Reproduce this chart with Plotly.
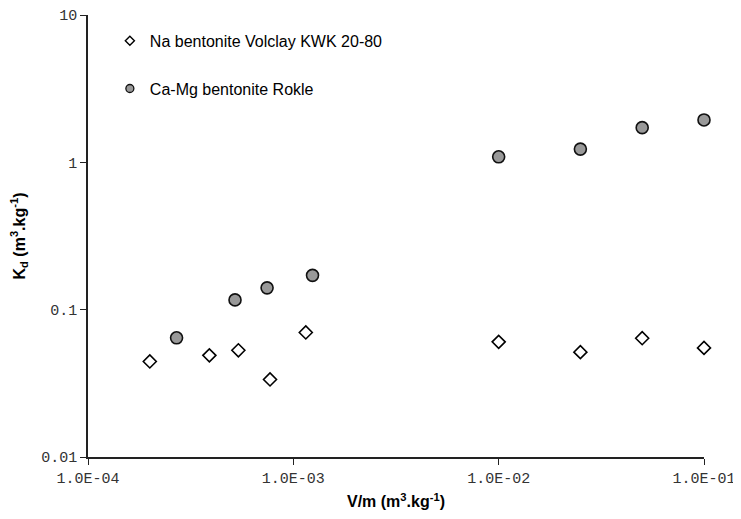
import plotly.graph_objects as go

# Data (V/m in m3/kg, Kd in m3/kg)
na_x = [2.0e-4, 3.9e-4, 5.4e-4, 7.7e-4, 1.15e-3, 1.0e-2, 2.5e-2, 5.0e-2, 1.0e-1]
na_y = [0.0445, 0.049, 0.053, 0.0336, 0.070, 0.0605, 0.0515, 0.064, 0.055]

ca_x = [2.7e-4, 5.2e-4, 7.45e-4, 1.24e-3, 1.0e-2, 2.5e-2, 5.0e-2, 1.0e-1]
ca_y = [0.0644, 0.1165, 0.1406, 0.171, 1.09, 1.23, 1.72, 1.94]

na_name = "Na bentonite Volclay KWK 20-80"
ca_name = "Ca-Mg bentonite Rokle"

x_tickvals = [1e-4, 1e-3, 1e-2, 1e-1]
x_ticktext = ["1.0E-04", "1.0E-03", "1.0E-02", "1.0E-01"]
y_tickvals = [0.01, 0.1, 1, 10]
y_ticktext = ["0.01", "0.1", "1", "10"]

mono = "Liberation Mono, Courier New, monospace"
sans = "Liberation Sans, Arial, sans-serif"

fig = go.Figure()

# data traces
fig.add_trace(go.Scatter(
    x=na_x, y=na_y, mode="markers", showlegend=False, cliponaxis=False,
    marker=dict(symbol="diamond", size=10, color="white",
                line=dict(color="black", width=1.6)),
))
fig.add_trace(go.Scatter(
    x=ca_x, y=ca_y, mode="markers", showlegend=False, cliponaxis=False,
    marker=dict(symbol="circle", size=12, color="#999999",
                line=dict(color="#111111", width=1.6)),
))

# legend entries (smaller symbols as in the reference)
fig.add_trace(go.Scatter(
    x=[None], y=[None], mode="markers", name=na_name, legend="legend",
    marker=dict(symbol="diamond", size=7, color="white",
                line=dict(color="black", width=1.4)),
))
fig.add_trace(go.Scatter(
    x=[None], y=[None], mode="markers", name=ca_name, legend="legend2",
    marker=dict(symbol="circle", size=8, color="#999999",
                line=dict(color="#111111", width=1.3)),
))

legend_common = dict(
    xanchor="left", yanchor="top", bgcolor="rgba(0,0,0,0)",
    font=dict(family=sans, size=16, color="black"),
    itemwidth=30,
)

# the page body adds an 8px offset, so the figure is 8px smaller on each side
fig.update_layout(
    width=733, height=511,
    margin=dict(l=80, r=37, t=7, b=62),
    paper_bgcolor="white", plot_bgcolor="white",
    legend=dict(x=0.0355, y=0.98, **legend_common),
    legend2=dict(x=0.0355, y=0.872, **legend_common),
    xaxis=dict(
        type="log", range=[-4, -0.99999], automargin=False,
        tickvals=x_tickvals, ticktext=x_ticktext, ticklabeloverflow="allow",
        tickfont=dict(family=mono, size=15, color="#333333"),
        ticks="outside", ticklen=6, tickwidth=1.3, tickcolor="#222222",
        showline=True, linecolor="#222222", linewidth=2.2,
        showgrid=False, zeroline=False,
        title=dict(text="<b>V/m (m<sup>3</sup>.kg<sup>-1</sup>)</b>",
                   font=dict(family=sans, size=16, color="black"), standoff=9),
    ),
    yaxis=dict(
        type="log", range=[-2, 1], automargin=False,
        tickvals=y_tickvals, ticktext=y_ticktext, ticklabeloverflow="allow",
        tickfont=dict(family=mono, size=15, color="#333333"),
        ticks="outside", ticklen=6, tickwidth=1.3, tickcolor="#222222",
        showline=True, linecolor="#222222", linewidth=1.5,
        showgrid=False, zeroline=False,
        title=dict(text="<b>K<sub>d</sub> (m<sup>3</sup>.kg<sup>-1</sup>)</b>",
                   font=dict(family=sans, size=16, color="black"), standoff=28),
    ),
)

fig.write_html("out.html")
